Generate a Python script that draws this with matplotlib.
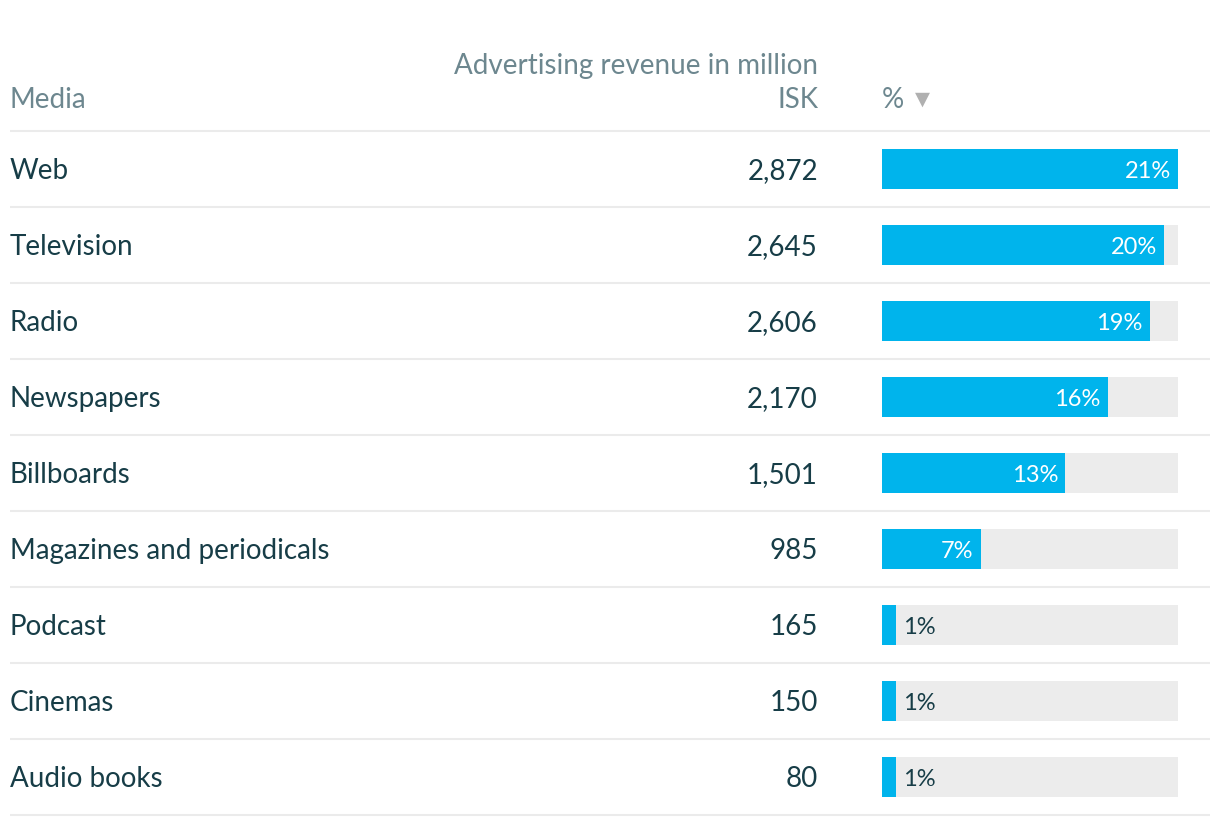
import matplotlib.pyplot as plt

plt.rcParams['font.family'] = ['Lato', 'DejaVu Sans']

media = ["Web", "Television", "Radio", "Newspapers", "Billboards",
         "Magazines and periodicals", "Podcast", "Cinemas", "Audio books"]
revenue = [2872, 2645, 2606, 2170, 1501, 985, 165, 150, 80]
pct = [21, 20, 19, 16, 13, 7, 1, 1, 1]

W, H = 1220, 826
fig = plt.figure(figsize=(W / 100, H / 100), dpi=100)

# full-figure axes in pixel coordinates for the table text and lines
ax = fig.add_axes([0, 0, 1, 1])
ax.set_xlim(0, W)
ax.set_ylim(H, 0)
ax.axis("off")

dark = "#173d47"
head = "#6d878f"
line = "#ebebeb"
blue = "#00b4ec"
track = "#ececec"

top = 131
row_h = 76
fs = 20

# header
ax.text(10, 108, "Media", fontsize=fs, color=head, va="baseline", ha="left")
ax.text(818, 74, "Advertising revenue in million", fontsize=fs, color=head,
        va="baseline", ha="right")
ax.text(818, 108, "ISK", fontsize=fs, color=head, va="baseline", ha="right")
ax.text(882, 108, "%", fontsize=fs, color=head, va="baseline", ha="left")
ax.text(915, 99, "▼", fontsize=14, color="#b0b0b0", va="center", ha="left",
        family=["DejaVu Sans"])
ax.plot([10, 1210], [top, top], color=line, lw=1.5, solid_capstyle="butt")

for i, (m, r) in enumerate(zip(media, revenue)):
    yc = top + row_h / 2 + i * row_h
    ax.text(10, yc + 10, m, fontsize=fs, color=dark, va="baseline", ha="left")
    ax.text(818, yc + 10, f"{r:,}", fontsize=fs, color=dark, va="baseline", ha="right")
    yb = top + (i + 1) * row_h
    ax.plot([10, 1210], [yb, yb], color=line, lw=1.5, solid_capstyle="butt")

# bar axes
x0, x1 = 882, 1178
bx = fig.add_axes([x0 / W, 1 - (top + len(media) * row_h) / H,
                   (x1 - x0) / W, len(media) * row_h / H])
bx.set_xlim(0, max(pct))
bx.set_ylim(len(media) - 0.5, -0.5)
bx.axis("off")
bx.patch.set_alpha(0)
ys = list(range(len(media)))
bh = 40 / row_h
bx.barh(ys, [max(pct)] * len(pct), height=bh, color=track, linewidth=0)
bx.barh(ys, pct, height=bh, color=blue, linewidth=0)

px = max(pct) / (x1 - x0)
dy = 9 / row_h
for i, p in enumerate(pct):
    if p >= 5:
        bx.text(p - 7 * px, i + dy, f"{p}%", fontsize=17, color="white",
                va="baseline", ha="right")
    else:
        bx.text(p + 7 * px, i + dy, f"{p}%", fontsize=17, color=dark,
                va="baseline", ha="left")

fig.savefig("out.png", dpi=100)
